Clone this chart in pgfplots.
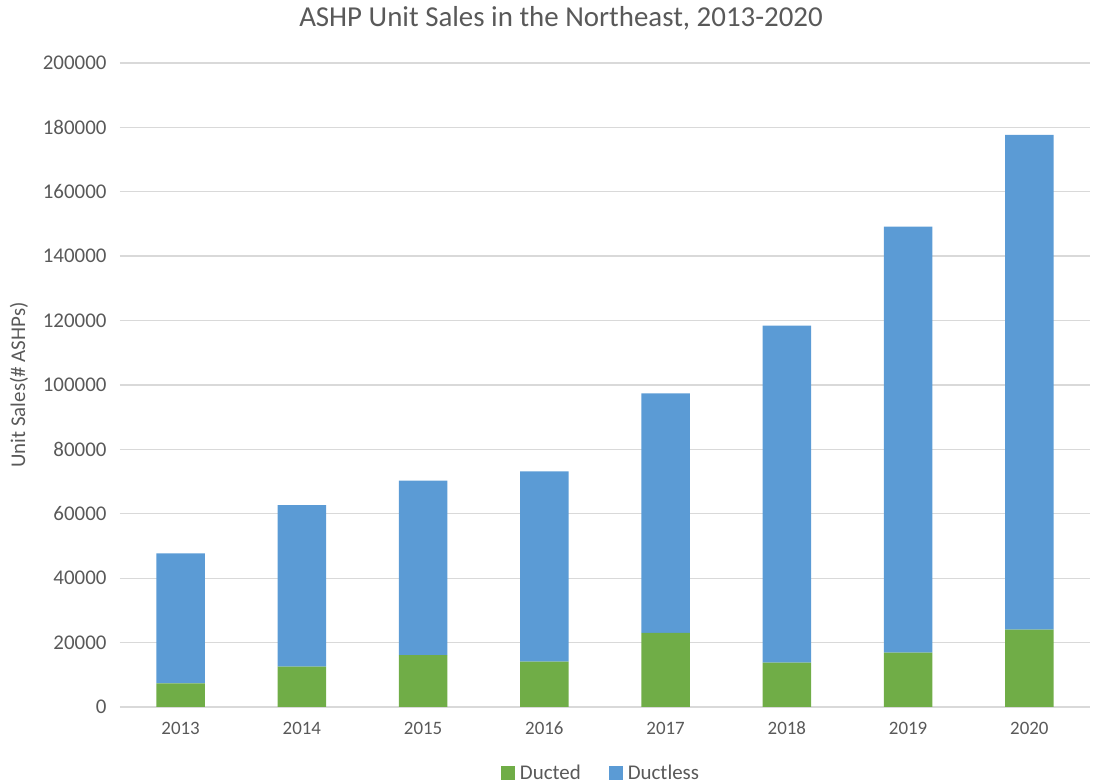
\documentclass[border=0pt]{standalone}
\usepackage{pgfplots}
\pgfplotsset{compat=1.18}
\usepackage{fontspec}
\setmainfont{Carlito}
\definecolor{ducted}{HTML}{70AD47}
\definecolor{ductless}{HTML}{5B9BD5}
\definecolor{gridc}{HTML}{D9D9D9}
\definecolor{txt}{HTML}{595959}
\begin{document}
\begin{tikzpicture}
\begin{axis}[
  at={(0,0)}, anchor=south west,
  scale only axis,
  width=970bp, height=644bp,
  ybar stacked,
  bar width=0.4,
  xmin=-0.5, xmax=7.5,
  ymin=0, ymax=200000,
  xtick={0,...,7},
  xticklabels={2013,2014,2015,2016,2017,2018,2019,2020},
  ytick={0,20000,...,200000},
  scaled y ticks=false,
  /pgf/number format/assume math mode=true,
  yticklabel={\pgfmathprintnumber[fixed,1000 sep={}]{\tick}},
  ymajorgrids,
  grid style={gridc, line width=1.4pt},
  axis line style={draw=none},
  major tick length=0pt,
  tick style={draw=none},
  yticklabel style={font=\fontsize{21}{21}\selectfont, text=txt, anchor=east, xshift=-10bp},
  xticklabel style={font=\fontsize{19}{19}\selectfont, text=txt, anchor=north, text height=12bp, text depth=0bp, yshift=-12bp},
  ylabel={Unit Sales(\# ASHPs)},
  ylabel style={at={(axis description cs:-0.1041,0.5)}, anchor=center, font=\fontsize{21}{21}\selectfont, text=txt},
  title={ASHP Unit Sales in the Northeast, 2013-2020},
  title style={at={(axis description cs:0.5,1)}, anchor=center, yshift=39bp, xshift=-44bp, font=\fontsize{29}{29}\selectfont, text=txt},
  legend columns=2,
  legend style={at={(axis description cs:0.5,0)}, anchor=center, yshift=-66bp, xshift=-4bp, draw=none, font=\fontsize{21}{21}\selectfont, text=txt, /tikz/every even column/.append style={column sep=26bp}},
  legend image code/.code={\fill[#1] (0bp,-7bp) rectangle (14bp,7bp); \path (17bp,0bp);},
]
\addplot[fill=ducted, draw=none] coordinates {(0,7300) (1,12500) (2,16100) (3,14100) (4,23000) (5,13800) (6,16900) (7,24000)};
\addlegendentry{Ducted}
\addplot[fill=ductless, draw=none] coordinates {(0,40400) (1,50200) (2,54200) (3,59100) (4,74400) (5,104600) (6,132300) (7,153700)};
\addlegendentry{Ductless}
\end{axis}
\pgfresetboundingbox
\path[use as bounding box] (-120bp,-77bp) rectangle (985bp,707bp);
\end{tikzpicture}
\end{document}
